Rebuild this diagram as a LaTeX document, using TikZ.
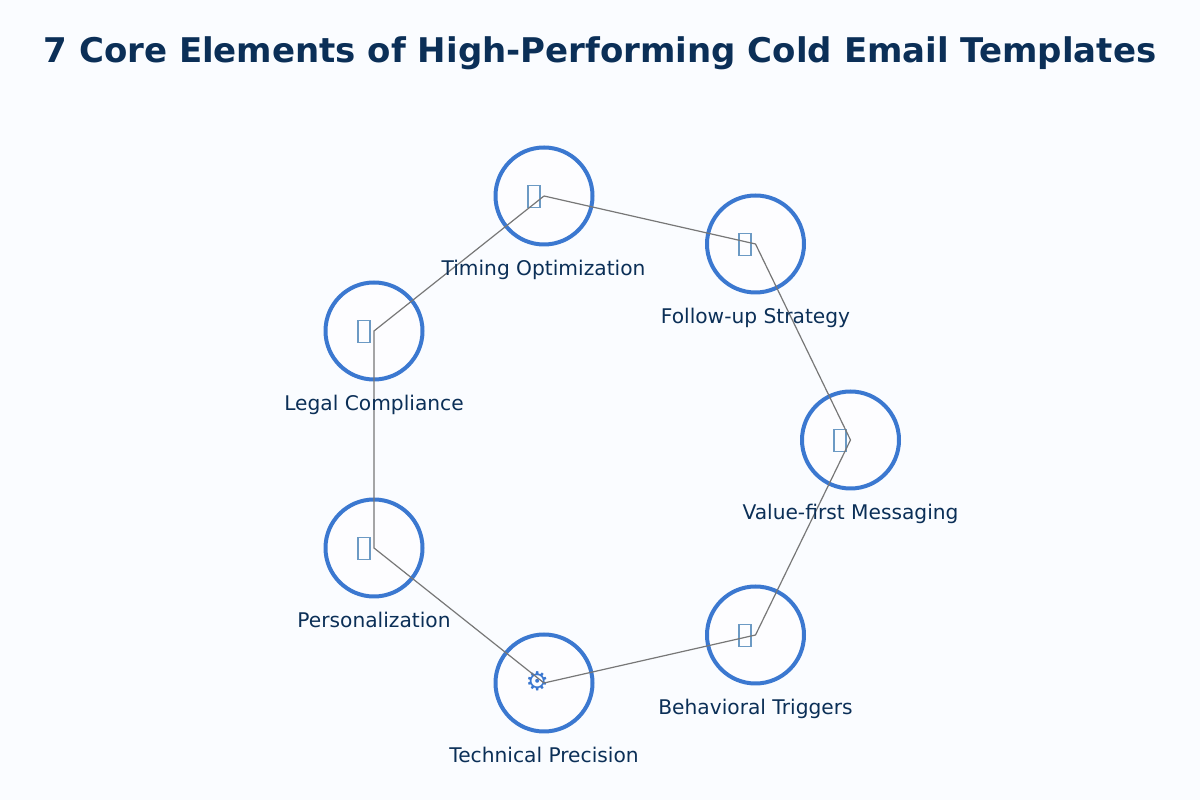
\documentclass[tikz,border=0pt]{standalone}
\usepackage{fontspec}
\setmainfont{DejaVu Sans}
\definecolor{pagebg}{HTML}{FAFCFF}
\definecolor{ink}{HTML}{0B2F57}
\definecolor{ringc}{HTML}{3B78D0}
\definecolor{iconc}{HTML}{6C9AC4}
\definecolor{linkc}{HTML}{777777}
\tikzset{
  x=1pt,y=1pt,
  hub/.style={circle,draw=ringc,line width=4pt,fill=white,fill opacity=0.6,draw opacity=1,minimum size=97pt,inner sep=0pt},
  tofu/.style={rectangle,draw=iconc,line width=1.3pt,fill=none,minimum width=12pt,minimum height=22.5pt,inner sep=0pt},
  gearicon/.style={text=ringc,font=\fontsize{26}{26}\selectfont,inner sep=0pt},
  caption/.style={text=ink,font=\fontsize{20.2}{24}\selectfont,inner sep=0pt,anchor=base},
  link/.style={draw=linkc,line width=1.2pt},
  headline/.style={text=ink,font=\fontsize{34}{40}\selectfont\bfseries,inner sep=0pt,anchor=base}
}
\begin{document}
\begin{tikzpicture}
\useasboundingbox (0,0) rectangle (1200,800);
\fill[pagebg] (0,0) rectangle (1200,800);
\node[headline] (title) at (600,737.5) {7 Core Elements of High-Performing Cold Email Templates};
\node[hub] (timing) at (544,604) {};
\node[hub] (follow) at (755.5,556) {};
\node[hub] (value) at (850.5,360) {};
\node[hub] (behav) at (755.5,165) {};
\node[hub] (tech) at (544,117) {};
\node[hub] (person) at (374,252) {};
\node[hub] (legal) at (374,469) {};
\node[tofu] (i1) at (534,603.5) {};
\node[tofu] (i2) at (745,555.5) {};
\node[tofu] (i3) at (840,359.5) {};
\node[tofu] (i4) at (745,164.5) {};
\node[gearicon] (i5) at (537.3,119) {⚙};
\node[tofu] (i6) at (364,251.5) {};
\node[tofu] (i7) at (364,468.5) {};
\draw[link] (timing.center) -- (follow.center) -- (value.center) -- (behav.center) -- (tech.center) -- (person.center) -- (legal.center) -- (timing.center);
\node[caption] (l1) at (543.5,524.5) {Timing Optimization};
\node[caption] (l2) at (755.5,476.5) {Follow-up Strategy};
\node[caption] (l3) at (850.5,280.5) {Value-first Messaging};
\node[caption] (l4) at (755.5,85.5) {Behavioral Triggers};
\node[caption] (l5) at (544,37.5) {Technical Precision};
\node[caption] (l6) at (374,172.5) {Personalization};
\node[caption] (l7) at (374,389.5) {Legal Compliance};
\end{tikzpicture}
\end{document}
